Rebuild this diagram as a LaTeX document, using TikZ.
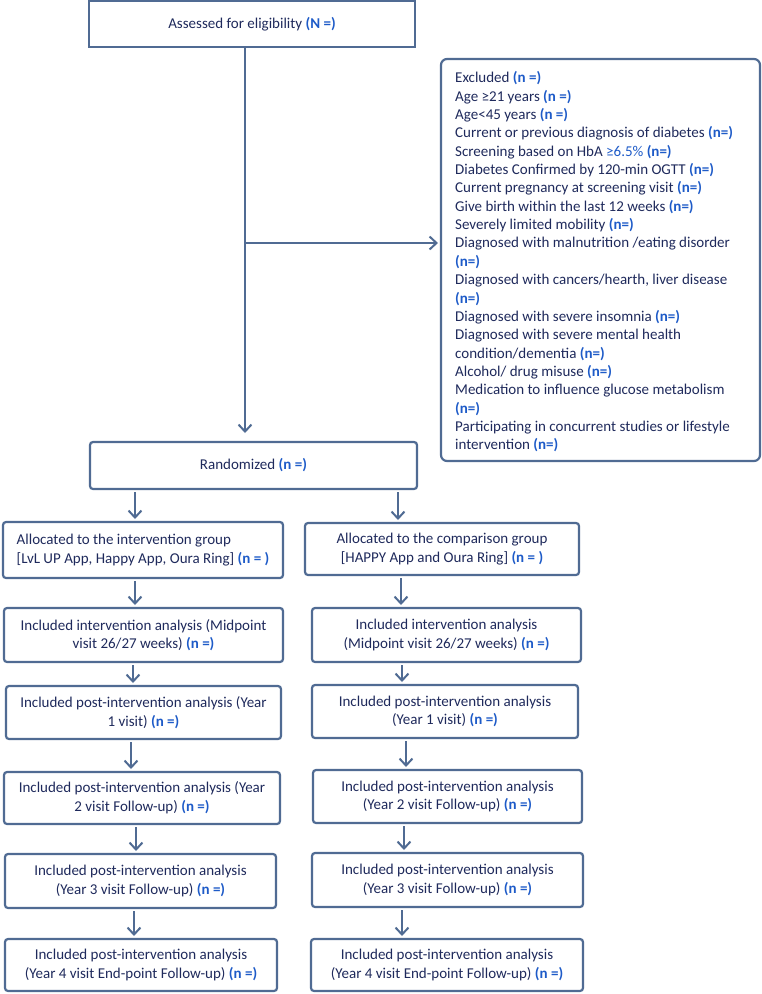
\documentclass[tikz,border=0pt]{standalone}
\usepackage{fontspec}
\setmainfont{Carlito}
\usetikzlibrary{arrows.meta}
\definecolor{bcol}{HTML}{506B93}
\definecolor{tcol}{HTML}{1F2A5C}
\definecolor{ncol}{HTML}{1E5BC8}
\newcommand{\nn}[1]{\textcolor{ncol}{\textbf{#1}}}
\newcommand{\bxfont}{\fontsize{15pt}{18.6pt}\selectfont}
\newcommand{\exfont}{\fontsize{15pt}{18.35pt}\selectfont}
\begin{document}
\begin{tikzpicture}[x=1pt,y=-1pt,
  box/.style={draw=bcol, line width=2.2pt, rounded corners=3pt, fill=white,
    text=tcol, font=\bxfont, align=center, inner sep=0pt, outer sep=0pt, anchor=north west},
  lbox/.style={box, align=left},
  sqbox/.style={box, rounded corners=0pt},
  txt/.style={text=tcol, font=\exfont, align=left, inner sep=0pt, anchor=north west},
  arr/.style={draw=bcol, line width=2pt, shorten <=3pt, shorten >=3pt,
    -{Straight Barb[length=7pt,width=13pt,line width=2pt]}}]
\useasboundingbox (0,0) rectangle (762,994);
% boxes
\node[sqbox, minimum width=326pt, minimum height=46pt] (top) at (89,1) {Assessed for eligibility \nn{(N =)}};
\node[box, rounded corners=6pt, minimum width=319pt, minimum height=402pt] (excl) at (441,59) {};
\node[txt] (excltxt) at (455,71.5) {Excluded \nn{(n =)}\\
Age ≥21 years \nn{(n =)}\\
Age<45 years \nn{(n =)}\\
Current or previous diagnosis of diabetes \nn{(n=)}\\
Screening based on HbA \textcolor{ncol}{≥6.5\%} \nn{(n=)}\\
Diabetes Confirmed by 120-min OGTT \nn{(n=)}\\
Current pregnancy at screening visit \nn{(n=)}\\
Give birth within the last 12 weeks \nn{(n=)}\\
Severely limited mobility \nn{(n=)}\\
Diagnosed with malnutrition /eating disorder\\
\nn{(n=)}\\
Diagnosed with cancers/hearth, liver disease\\
\nn{(n=)}\\
Diagnosed with severe insomnia \nn{(n=)}\\
Diagnosed with severe mental health\\
condition/dementia \nn{(n=)}\\
Alcohol/ drug misuse \nn{(n=)}\\
Medication to influence glucose metabolism\\
\nn{(n=)}\\
Participating in concurrent studies or lifestyle\\
intervention \nn{(n=)}};
\node[box, minimum width=327pt, minimum height=47pt] (rand) at (90,442) {Randomized \nn{(n =)}};
\node[lbox, minimum width=280pt, minimum height=56pt] (la) at (3,522) {Allocated to the intervention group\\{}[LvL UP App, Happy App, Oura Ring] \nn{(n = )}};
\node[box, minimum width=274pt, minimum height=52pt] (ra) at (305,523) {Allocated to the comparison group\\{}[HAPPY App and Oura Ring] \nn{(n = )}};
\node[box, minimum width=279pt, minimum height=54pt] (l1) at (4,608) {Included intervention analysis (Midpoint\\visit 26/27 weeks) \nn{(n =)}};
\node[box, minimum width=269pt, minimum height=54pt] (r1) at (312,608) {Included intervention analysis\\(Midpoint visit 26/27 weeks) \nn{(n =)}};
\node[box, minimum width=275pt, minimum height=53pt] (l2) at (6,686) {Included post-intervention analysis (Year\\1 visit) \nn{(n =)}};
\node[box, minimum width=266pt, minimum height=53pt] (r2) at (312,685) {Included post-intervention analysis\\(Year 1 visit) \nn{(n =)}};
\node[box, minimum width=276pt, minimum height=52pt] (l3) at (4,772) {Included post-intervention analysis (Year\\2 visit Follow-up) \nn{(n =)}};
\node[box, minimum width=269pt, minimum height=53pt] (r3) at (313,770) {Included post-intervention analysis\\(Year 2 visit Follow-up) \nn{(n =)}};
\node[box, minimum width=271pt, minimum height=54pt] (l4) at (5,854) {Included post-intervention analysis\\(Year 3 visit Follow-up) \nn{(n =)}};
\node[box, minimum width=271pt, minimum height=54pt] (r4) at (312,853) {Included post-intervention analysis\\(Year 3 visit Follow-up) \nn{(n =)}};
\node[box, minimum width=272pt, minimum height=52pt] (l5) at (5,939) {Included post-intervention analysis\\(Year 4 visit End-point Follow-up) \nn{(n =)}};
\node[box, minimum width=272pt, minimum height=52pt] (r5) at (311,939) {Included post-intervention analysis\\(Year 4 visit End-point Follow-up) \nn{(n =)}};
% connector positions
\coordinate (br) at (245,243);
\coordinate (xa) at (135,0);
\coordinate (xb) at (398,0);
\coordinate (x1) at (135,0);
\coordinate (y1) at (401,0);
\coordinate (x2) at (133,0);
\coordinate (y2) at (402,0);
\coordinate (x3) at (131,0);
\coordinate (y3) at (406,0);
\coordinate (x4) at (136,0);
\coordinate (y4) at (404,0);
\coordinate (x5) at (134,0);
\coordinate (y5) at (402,0);
% connectors
\draw[draw=bcol, line width=2pt] (br |- top.south) -- (br);
\draw[arr, shorten <=0pt, shorten >=9pt] (br) -- (br |- rand.north);
\draw[arr, shorten <=0pt] (br) -- (br -| excl.west);
\draw[arr] (xa |- rand.south) -- (xa |- la.north);
\draw[arr] (xb |- rand.south) -- (xb |- ra.north);
\draw[arr] (x1 |- la.south) -- (x1 |- l1.north);
\draw[arr] (y1 |- ra.south) -- (y1 |- r1.north);
\draw[arr] (x2 |- l1.south) -- (x2 |- l2.north);
\draw[arr] (y2 |- r1.south) -- (y2 |- r2.north);
\draw[arr] (x3 |- l2.south) -- (x3 |- l3.north);
\draw[arr] (y3 |- r2.south) -- (y3 |- r3.north);
\draw[arr] (x4 |- l3.south) -- (x4 |- l4.north);
\draw[arr] (y4 |- r3.south) -- (y4 |- r4.north);
\draw[arr] (x5 |- l4.south) -- (x5 |- l5.north);
\draw[arr] (y5 |- r4.south) -- (y5 |- r5.north);
\end{tikzpicture}
\end{document}
